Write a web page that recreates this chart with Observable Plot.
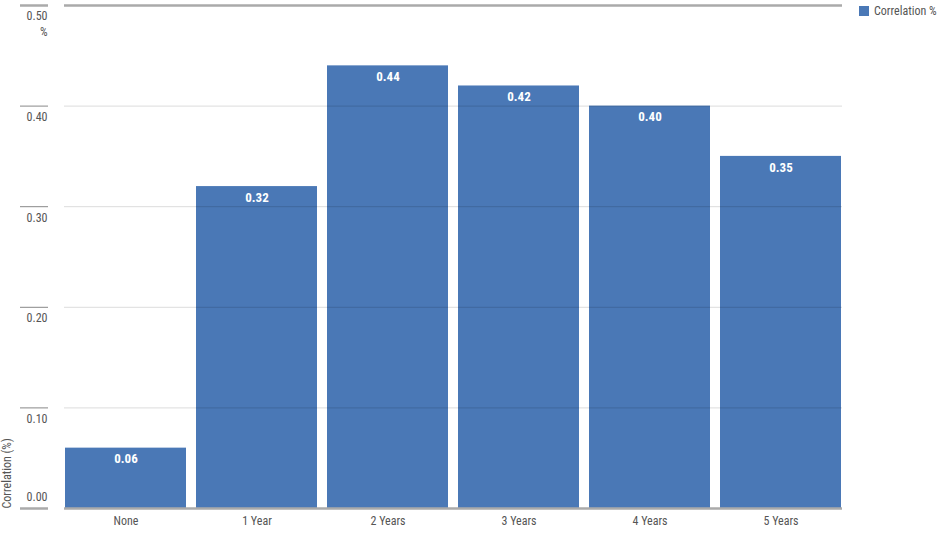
<!DOCTYPE html>
<html><head><meta charset="utf-8">
<script src="https://cdn.jsdelivr.net/npm/d3@7"></script>
<script src="https://cdn.jsdelivr.net/npm/@observablehq/plot@0.6"></script>
<style>
body{margin:0;background:#fff;font-family:"Liberation Sans Narrow","Roboto Condensed",Roboto,sans-serif;}
#wrap{position:relative;width:948px;height:533px;}
#legend{position:absolute;left:859px;top:4px;font-size:12px;color:#555;display:flex;align-items:center;white-space:nowrap;}
#legend .sw{display:inline-block;width:10px;height:10px;background:#4a78b6;margin-right:5px;}
</style></head><body>
<div id="wrap"><div id="legend"><span class="sw"></span><span id="lgtext"></span></div></div>
<script>
const categories = ["None","1 Year","2 Years","3 Years","4 Years","5 Years"];
const values = [0.06,0.32,0.44,0.42,0.40,0.35];
const yTicks = [0,0.1,0.2,0.3,0.4,0.5];
const seriesName = "Correlation %";
const yLabel = "Correlation (%)";
const unitLabel = "%";

const data = categories.map((c,i)=>({cat:c, value:values[i]}));
document.getElementById("lgtext").textContent = seriesName;
const fmt = d3.format(".2f");
const edgeTicks = [yTicks[0], yTicks[yTicks.length-1]];
const midTicks = yTicks.slice(1,-1);

const chart = Plot.plot({
  width:948, height:533,
  marginLeft:64, marginRight:106, marginTop:5, marginBottom:25,
  style:{fontFamily:'"Liberation Sans Narrow","Roboto Condensed",Roboto,sans-serif', fontSize:"12px", color:"#555", background:"#fff"},
  x:{domain:categories, paddingInner:0.076, paddingOuter:0, label:null},
  y:{domain:[0,0.5], label:null},
  marks:[
    Plot.barY(data,{x:"cat", y:"value", fill:"#4a78b6"}),
    Plot.gridY(midTicks,{stroke:"#000", strokeOpacity:0.14, strokeWidth:1}),
    Plot.ruleY([yTicks[yTicks.length-1]],{stroke:"#aaa", strokeWidth:2.5}),
    Plot.ruleY([yTicks[0]],{stroke:"#aaa", strokeWidth:2.5}),
    Plot.axisY(midTicks,{tickSize:28, dx:-16, tickFormat:()=>"", stroke:"#888", strokeWidth:1}),
    Plot.axisY(edgeTicks,{tickSize:28, dx:-16, tickFormat:()=>"", stroke:"#aaa", strokeWidth:2.5}),
    Plot.axisY(yTicks.slice(1),{tickSize:0, tickPadding:17, dy:11, tickFormat:fmt, fill:"#555", label:null}),
    Plot.axisY([yTicks[0]],{tickSize:0, tickPadding:17, dy:-11, tickFormat:fmt, fill:"#555", label:null}),
    Plot.text([yTicks[yTicks.length-1]],{y:d=>d, text:()=>unitLabel, frameAnchor:"left", dx:-17, dy:27, textAnchor:"end", fill:"#555"}),
    Plot.text([yLabel],{text:d=>d, frameAnchor:"bottom-left", dx:-54, rotate:-90, textAnchor:"start", fill:"#555"}),
    Plot.text(data,{x:"cat", y:"value", text:d=>fmt(d.value), dy:11, fill:"white", fontWeight:"bold", fontSize:13}),
    Plot.axisX({tickSize:0, tickPadding:8, label:null, fill:"#555"})
  ]
});
document.getElementById("wrap").appendChild(chart);
</script>
</body></html>
